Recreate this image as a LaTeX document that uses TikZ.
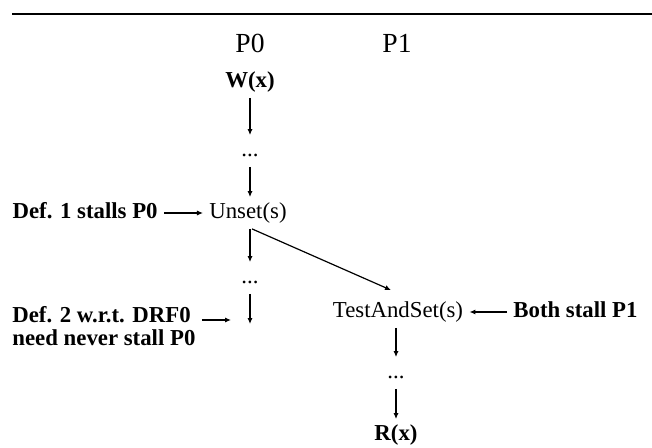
\documentclass[tikz,border=0pt]{standalone}
\usepackage{fontspec}
\setmainfont{Liberation Serif}
\usetikzlibrary{arrows.meta}
\begin{document}
\begin{tikzpicture}[
		x=0.5pt, y=-0.5pt,
		op/.style={font=\fontsize{11.4}{13}\selectfont, text height=8pt, text depth=2.5pt, inner xsep=3pt, inner ysep=2.5pt},
		note/.style={op, font=\fontsize{11.4}{13}\selectfont\bfseries},
		head/.style={font=\fontsize{13.8}{16}\selectfont, inner sep=0pt},
		conn/.style={-{Latex[length=3pt, width=2.6pt]}, line width=0.6pt}
		]
		\useasboundingbox (0,0) rectangle (652,448);
		
		% Rule
		\draw[line width=1pt] (12,14) -- (652,14);
		
		% Processes
		\node[head] (p0Head) at (250,43) {P0};
		\node[head] (p1Head) at (397,43) {P1};
		
		% P0
		\node[note] (p0Write) at (250,82) {W(x)};
		\node[op] (p0DotsA) at (250,151) {...};
		\node[op] (p0Unset) at (248,213) {Unset(s)};
		\node[op] (p0DotsB) at (250,278) {...};
		\coordinate (p0End) at (250,324);
		\draw[conn] (p0Write) -- (p0DotsA);
		\draw[conn] (p0DotsA) -- (p0Unset.north -| p0DotsA);
		\draw[conn] (p0Unset.south -| p0DotsB) -- (p0DotsB);
		\draw[conn] (p0DotsB) -- (p0End);
		
		% P1
		\node[op] (p1Tas) at (398,312) {TestAndSet(s)};
		\node[op] (p1Dots) at (396,373) {...};
		\node[note] (p1Read) at (396,435) {R(x)};
		\draw[conn] (p1Tas.south -| p1Dots) -- (p1Dots);
		\draw[conn] (p1Dots) -- (p1Read);
		
		% Synchronization
		\draw[conn] ([xshift=2pt]p0Unset.south) -- ([xshift=-3.5pt, yshift=3pt]p1Tas.north);
		
		% Notes
		\node[note, anchor=east] (def1Note) at (164,213) {Def. 1 stalls P0};
		\draw[conn] (def1Note) -- (p0Unset);
		
		\node[font=\fontsize{11.4}{11.5}\selectfont\bfseries, align=left, inner sep=0pt, anchor=west] (def2Note) at (12,326) {Def. 2 w.r.t. DRF0\\need never stall P0};
		\coordinate (def2Tip) at (231,320);
		\draw[conn, shorten <=3pt] (def2Note.east |- def2Tip) -- (def2Tip);
		
		\node[note, anchor=west] (bothNote) at (507,312) {Both stall P1};
		\draw[conn] (bothNote) -- (p1Tas);
		
	\end{tikzpicture}
\end{document}
